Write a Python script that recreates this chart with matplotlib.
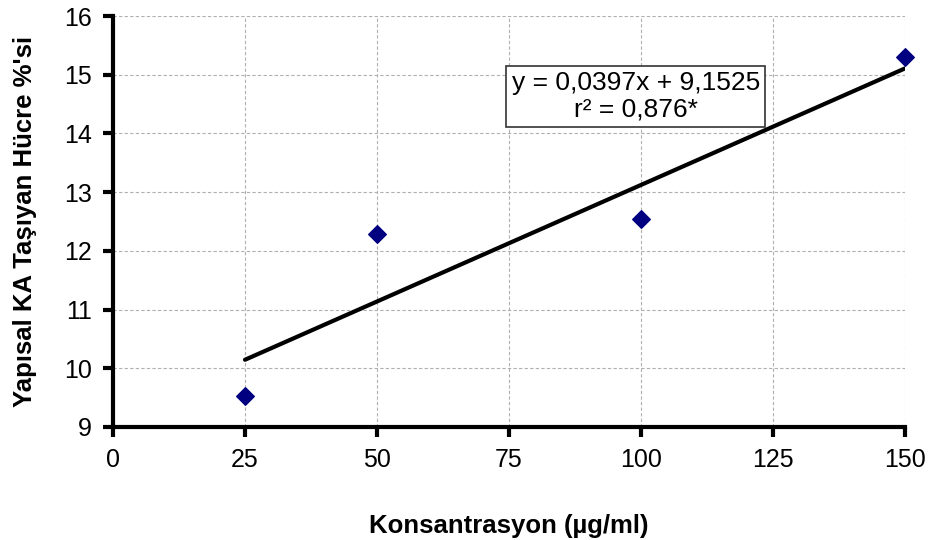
import matplotlib
matplotlib.use("Agg")
import matplotlib.pyplot as plt
import numpy as np

plt.rcParams['font.family'] = ['Liberation Sans', 'DejaVu Sans']

conc = [25, 50, 100, 150]
percent = [9.52, 12.28, 12.55, 15.3]
slope = 0.0397
intercept = 9.1525
x_ticks = [0, 25, 50, 75, 100, 125, 150]
y_ticks = [9, 10, 11, 12, 13, 14, 15, 16]

fig = plt.figure(figsize=(9.36, 5.4), dpi=100)
ax = fig.add_axes([113/936, 1 - 427/540, (905-113)/936, (427-16)/540])

ax.set_xlim(0, 150)
ax.set_ylim(9, 16)
ax.set_xticks(x_ticks)
ax.set_yticks(y_ticks)
ax.grid(True, color='#b0b0b0', linestyle=(0, (3, 2)), linewidth=0.8)
ax.set_axisbelow(True)

for s in ['top', 'right']:
    ax.spines[s].set_visible(False)
for s in ['left', 'bottom']:
    ax.spines[s].set_linewidth(3)
ax.tick_params(axis='both', width=3, length=7, labelsize=18, direction='out', pad=8)

xl = np.array([min(conc), max(conc)])
ax.plot(xl, slope * xl + intercept, color='black', linewidth=3, solid_capstyle='round', zorder=3)
ax.scatter(conc, percent, marker='D', s=80, color='#000080', zorder=4, clip_on=False)

ax.text(99, 14.63, "y = 0,0397x + 9,1525\nr² = 0,876*", ha='center', va='center', fontsize=19,
        linespacing=1.1,
        bbox=dict(boxstyle='square,pad=0.2', facecolor='white', edgecolor='#333333', linewidth=1.2), zorder=5)

ax.set_xlabel("Konsantrasyon (µg/ml)", fontsize=18.5, fontweight='bold', labelpad=30)
ax.set_ylabel("Yapısal KA Taşıyan Hücre %'si", fontsize=18.5, fontweight='bold', labelpad=20)

fig.savefig("out.png", dpi=100)
